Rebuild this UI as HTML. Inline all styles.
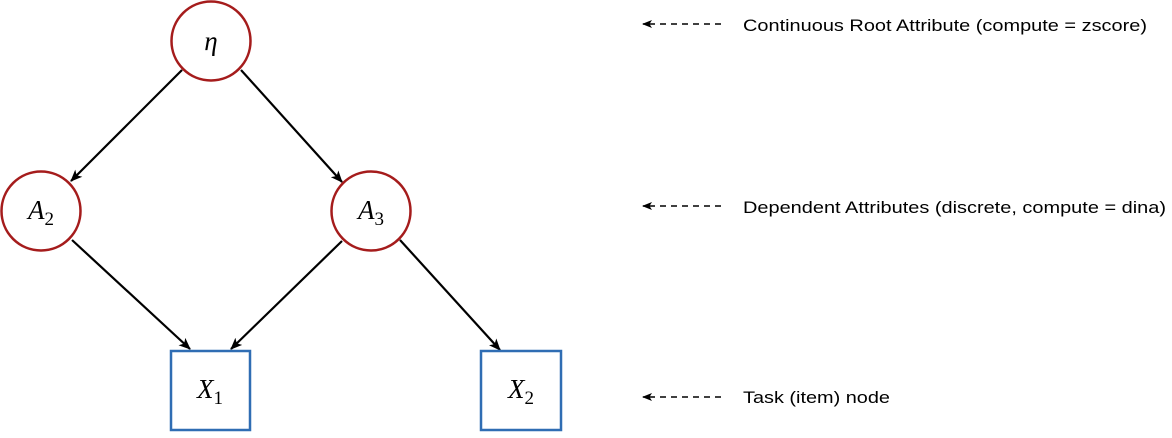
<!DOCTYPE html>
<html><head><style>body{margin:0;background:#fff;width:1172px;height:433px;overflow:hidden}</style></head>
<body>
<svg width="1172" height="433" xmlns="http://www.w3.org/2000/svg">
<defs>
<marker id="a" markerWidth="12" markerHeight="10" refX="11" refY="5" orient="auto" markerUnits="userSpaceOnUse"><path d="M0,0 L12,5 L0,10 L3,5 Z" fill="#000"/></marker>
<marker id="b" markerWidth="10" markerHeight="8" refX="9" refY="4" orient="auto" markerUnits="userSpaceOnUse"><path d="M0,0 L10,4 L0,8 L2.5,4 Z" fill="#000"/></marker>
</defs>
<g stroke="#000" stroke-width="2.2" fill="none">
<line x1="182" y1="70" x2="71" y2="181" marker-end="url(#a)"/>
<line x1="241" y1="70" x2="342" y2="182" marker-end="url(#a)"/>
<line x1="72" y1="240" x2="190" y2="349" marker-end="url(#a)"/>
<line x1="342" y1="241" x2="231" y2="349" marker-end="url(#a)"/>
<line x1="400" y1="240" x2="500" y2="350" marker-end="url(#a)"/>
</g>
<g stroke="#a51c1c" stroke-width="2.5" fill="#fff">
<circle cx="211" cy="41" r="39.5"/>
<circle cx="41" cy="211" r="39.5"/>
<circle cx="371" cy="211" r="39.5"/>
</g>
<g stroke="#2f6db3" stroke-width="2.5" fill="#fff">
<rect x="171" y="351" width="79" height="79"/>
<rect x="481" y="351" width="80" height="79"/>
</g>
<g font-family="Liberation Serif, serif" font-style="italic" font-size="27" fill="#000" text-anchor="middle">
<text x="211" y="50">η</text>
<text x="41" y="219">A<tspan font-style="normal" font-size="19" dy="6">2</tspan></text>
<text x="371" y="219">A<tspan font-style="normal" font-size="19" dy="6">3</tspan></text>
<text x="210" y="398">X<tspan font-style="normal" font-size="19" dy="6">1</tspan></text>
<text x="521" y="398">X<tspan font-style="normal" font-size="19" dy="6">2</tspan></text>
</g>
<g stroke="#000" stroke-width="1.5" stroke-dasharray="6,5" fill="none">
<line x1="721" y1="24" x2="643" y2="24" marker-end="url(#b)"/>
<line x1="721" y1="206" x2="643" y2="206" marker-end="url(#b)"/>
<line x1="721" y1="397" x2="643" y2="397" marker-end="url(#b)"/>
</g>
<g font-family="Liberation Sans, sans-serif" font-size="17" fill="#000">
<text x="743" y="31" textLength="404" lengthAdjust="spacingAndGlyphs">Continuous Root Attribute (compute = zscore)</text>
<text x="743" y="213" textLength="423" lengthAdjust="spacingAndGlyphs">Dependent Attributes (discrete, compute = dina)</text>
<text x="743" y="403" textLength="147" lengthAdjust="spacingAndGlyphs">Task (item) node</text>
</g>
</svg>
</body></html>
